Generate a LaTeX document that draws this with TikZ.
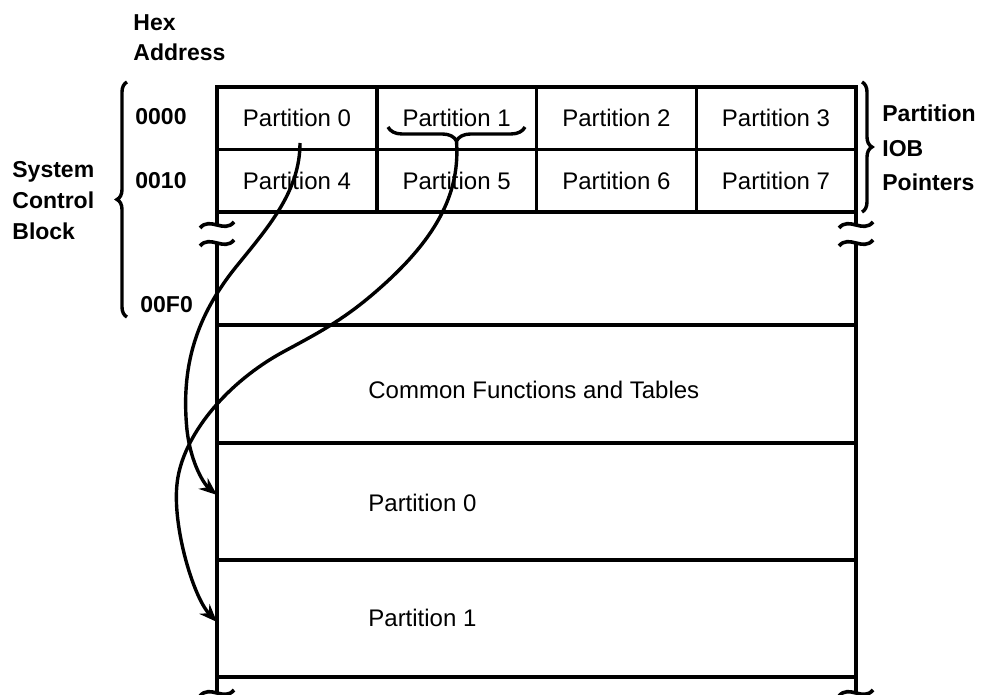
\documentclass[tikz,border=0pt]{standalone}
\usepackage{fontspec}
\setmainfont{Liberation Sans}
\usepackage{tikz}
\usetikzlibrary{arrows.meta,positioning,decorations.pathreplacing}

\tikzset{
    frame/.style={line width=2.3pt},
    rule/.style={line width=1.6pt},
    cell/.style={draw, line width=1.6pt, minimum width=79.9pt, minimum height=31.25pt, inner sep=0pt, font=\fontsize{12}{14}\selectfont},
    sect/.style={anchor=west, inner sep=0pt, font=\fontsize{12}{14}\selectfont},
    lbl/.style={anchor=west, inner sep=0pt, align=left, font=\bfseries\fontsize{11.5}{15.5}\selectfont},
    curly/.style={decorate, decoration={brace, amplitude=#1}, line width=1.7pt},
    ptr/.style={line width=1.7pt, -{Stealth[length=9pt, width=7pt]}},
    brk/.pic={\draw[line width=1.8pt] (-17,3) .. controls (-7,-9) and (7,9) .. (17,-3);}
}

\begin{document}
\begin{tikzpicture}[x=0.5pt, y=-0.5pt]
    \useasboundingbox (0,0) rectangle (981,695);

    % pointer table
    \node[cell] (p0) at (297,118.25) {Partition 0};
    \node[cell] (p1) at (456.6,118.25) {Partition 1};
    \node[cell] (p2) at (616.4,118.25) {Partition 2};
    \node[cell] (p3) at (776,118.25) {Partition 3};
    \node[cell] (p4) at (297,180.75) {Partition 4};
    \node[cell] (p5) at (456.6,180.75) {Partition 5};
    \node[cell] (p6) at (616.4,180.75) {Partition 6};
    \node[cell] (p7) at (776,180.75) {Partition 7};

    % outer frame with breaks
    \draw[frame] (217,225) -- (217,87) -- (856,87) -- (856,225);
    \draw[frame] (217,243) -- (217,692);
    \draw[frame] (856,243) -- (856,692);
    \pic at (217,225) {brk};
    \pic at (217,243) {brk};
    \pic at (856,225) {brk};
    \pic at (856,243) {brk};
    \pic at (217,693) {brk};
    \pic at (856,693) {brk};

    % storage areas
    \draw[rule] (217,325) -- (856,325);
    \draw[rule] (217,443) -- (856,443);
    \draw[rule] (217,560) -- (856,560);
    \draw[rule] (217,677) -- (856,677);
    \node[sect] (common) at (368,390) {Common Functions and Tables};
    \node[sect] (area0) at (368,503) {Partition 0};
    \node[sect] (area1) at (368,618) {Partition 1};

    % labels
    \node[lbl, font=\bfseries\fontsize{11.5}{15}\selectfont] (hex) at (133,38) {Hex\\Address};
    \node[lbl] (a0) at (135,117) {0000};
    \node[lbl] (a1) at (135,181) {0010};
    \node[lbl] (a2) at (140,305) {00F0};
    \node[lbl] (scb) at (12,201) {System\\Control\\Block};
    \node[lbl, font=\bfseries\fontsize{11.5}{17.25}\selectfont] (iob) at (882,148) {Partition\\IOB\\Pointers};

    % braces
    \draw[curly=5pt] (127,317) -- (127,82);
    \draw[curly=5pt] (862,82) -- (862,212);
    \draw[curly=7pt] (525,127) -- (388,127);

    % pointers
    \coordinate (src0) at (300,143);
    \coordinate (src1) at (456.5,141);
    \coordinate (in0) at (217,495);
    \coordinate (in1) at (217,622);
    \draw[ptr] (src0) .. controls (300,190) and (270,225) .. (240,262) .. controls (200,310) and (180,360) .. (187,430) .. controls (191,465) and (205,485) .. (in0);
    \draw[ptr] (src1) .. controls (460,190) and (440,235) .. (380,288) .. controls (344,320) and (318,333) .. (283,352) .. controls (228,382) and (186,432) .. (178,477) .. controls (170,520) and (193,597) .. (in1);
\end{tikzpicture}
\end{document}
